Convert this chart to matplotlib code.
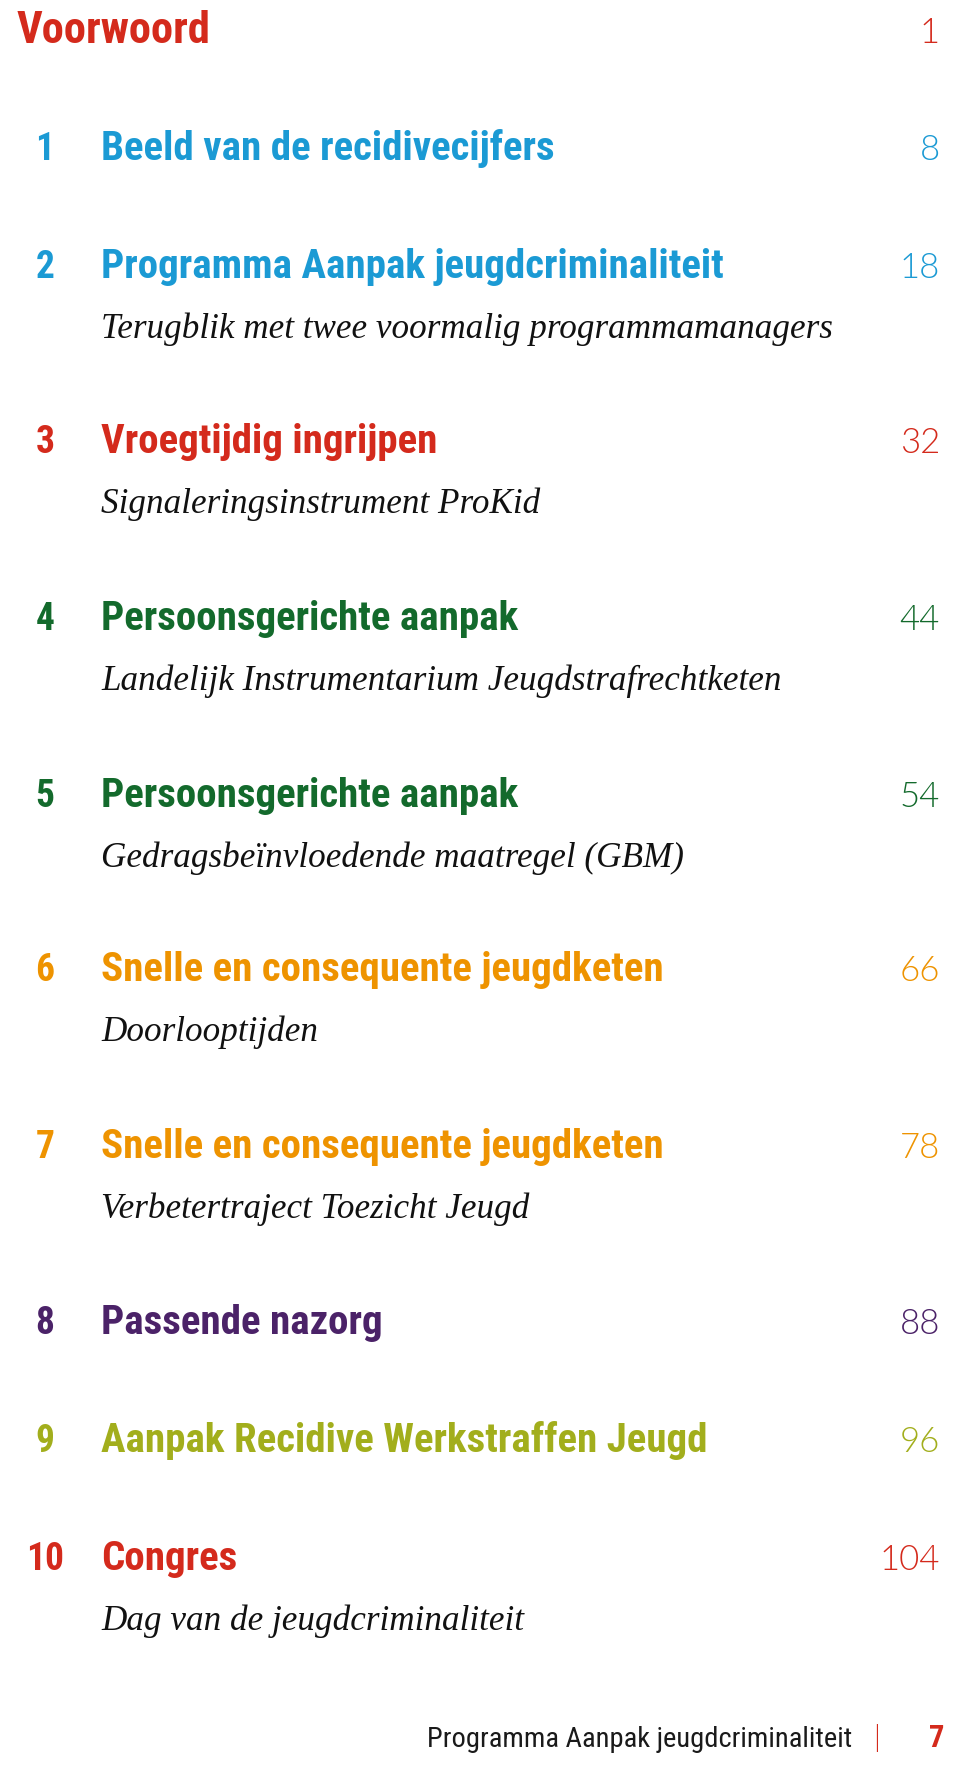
from matplotlib import font_manager
from matplotlib import pyplot as plt

# table of contents content
chapterNumbers = ["1", "2", "3", "4", "5", "6", "7", "8", "9", "10"]
chapterTitles = [
    "Beeld van de recidivecijfers",
    "Programma Aanpak jeugdcriminaliteit",
    "Vroegtijdig ingrijpen",
    "Persoonsgerichte aanpak",
    "Persoonsgerichte aanpak",
    "Snelle en consequente jeugdketen",
    "Snelle en consequente jeugdketen",
    "Passende nazorg",
    "Aanpak Recidive Werkstraffen Jeugd",
    "Congres",
]
chapterSubtitles = [
    "",
    "Terugblik met twee voormalig programmamanagers",
    "Signaleringsinstrument ProKid",
    "Landelijk Instrumentarium Jeugdstrafrechtketen",
    "Gedragsbeïnvloedende maatregel (GBM)",
    "Doorlooptijden",
    "Verbetertraject Toezicht Jeugd",
    "",
    "",
    "Dag van de jeugdcriminaliteit",
]
chapterPages = ["8", "18", "32", "44", "54", "66", "78", "88", "96", "104"]
prefaceTitle = "Voorwoord"
prefacePage = "1"
footerText = "Programma Aanpak jeugdcriminaliteit"
footerPage = "7"

RED = "#d42a1c"
BLUE = "#1b9ad4"
GREEN = "#136a2c"
ORANGE = "#ee9300"
PURPLE = "#4b2268"
OLIVE = "#a2ae1c"
chapterColors = [BLUE, BLUE, RED, GREEN, GREEN, ORANGE, ORANGE, PURPLE, OLIVE, RED]

# baselines in pixels from the top
titleBaselines = [160, 278, 453, 630, 807, 981, 1158, 1334, 1452, 1570]
subtitleOffset = 60


def pickFont(candidates):
    installed = {f.name for f in font_manager.fontManager.ttflist}
    for name in candidates:
        if name in installed:
            return name
    return "DejaVu Sans"


def main() -> None:
    sansNarrow = pickFont(["Roboto Condensed", "Liberation Sans Narrow", "Open Sans", "Liberation Sans"])
    serif = pickFont(["Liberation Serif", "DejaVu Serif"])
    light = pickFont(["Lato", "Open Sans", "Roboto"])

    fig = plt.figure(figsize=(9.6, 17.67), dpi=100)
    ax = fig.add_axes([0, 0, 1, 1])
    ax.set_xlim(0, 960)
    ax.set_ylim(1767, 0)
    ax.axis("off")

    titleSize = 29.5
    ax.text(17, 43, prefaceTitle, color=RED, fontsize=32, fontweight=600,
            family=sansNarrow, va="baseline", ha="left")
    ax.text(940, 43, prefacePage, color=RED, fontsize=25, fontweight=300,
            family=light, va="baseline", ha="right")

    for num, title, sub, page, color, y in zip(
        chapterNumbers, chapterTitles, chapterSubtitles, chapterPages, chapterColors, titleBaselines
    ):
        ax.text(45, y, num, color=color, fontsize=27, fontweight=600,
                family=sansNarrow, va="baseline", ha="center")
        ax.text(101, y, title, color=color, fontsize=titleSize, fontweight=600,
                family=sansNarrow, va="baseline", ha="left")
        ax.text(940, y, page, color=color, fontsize=25, fontweight=300,
                family=light, va="baseline", ha="right")
        if sub:
            ax.text(101, y + subtitleOffset, sub, color="#111111", fontsize=25.3,
                    style="italic", family=serif, va="baseline", ha="left")

    ax.text(852, 1747, footerText, color="#1a1a1a", fontsize=20.5,
            family=sansNarrow, va="baseline", ha="right")
    ax.text(877, 1747, "|", color=RED, fontsize=21, fontweight=300,
            family=light, va="baseline", ha="center")
    ax.text(944, 1747, footerPage, color=RED, fontsize=22, fontweight="bold",
            family=sansNarrow, va="baseline", ha="right")

    fig.savefig("out.png", dpi=100, facecolor="white")


if __name__ == "__main__":
    main()
